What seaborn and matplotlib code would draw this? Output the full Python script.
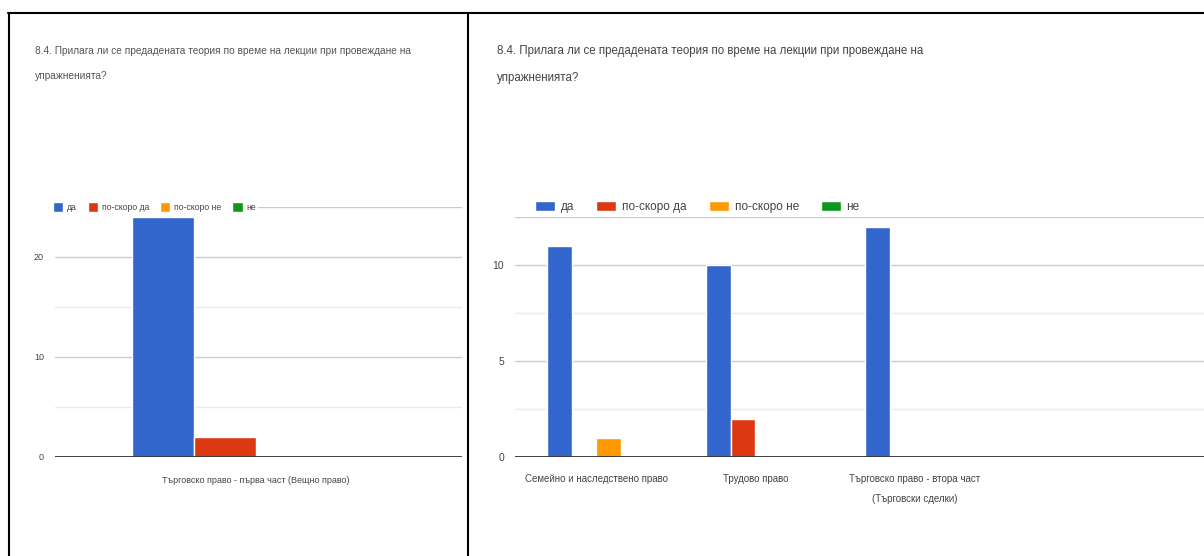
import pandas as pd
import matplotlib.pyplot as plt
import seaborn as sns
from matplotlib.lines import Line2D

# answers and colours (Google Forms palette)
answers = ["да", "по-скоро да", "по-скоро не", "не"]
answer_colors = ["#3366CC", "#DC3912", "#FF9900", "#109618"]

title = ("8.4. Прилага ли се предадената теория по време на лекции при провеждане на\n"
         "упражненията?")

# left chart
left_subjects = ["Търговско право - първа част (Вещно право)"]
left_da = [24]
left_poskoro_da = [2]
left_poskoro_ne = [0]
left_ne = [0]
left_yticks = [0, 10, 20]

# right chart
right_subjects = ["Семейно и наследствено право", "Трудово право",
                  "Търговско право - втора част\n(Търговски сделки)"]
right_da = [11, 10, 12]
right_poskoro_da = [0, 2, 0]
right_poskoro_ne = [1, 0, 0]
right_ne = [0, 0, 0]
right_yticks = [0, 5, 10]


def to_long(subjects, *series):
    rows = []
    for ans, vals in zip(answers, series):
        for s, v in zip(subjects, vals):
            rows.append({"subject": s, "answer": ans, "count": v})
    return pd.DataFrame(rows)


df_left = to_long(left_subjects, left_da, left_poskoro_da, left_poskoro_ne, left_ne)
df_right = to_long(right_subjects, right_da, right_poskoro_da, right_poskoro_ne, right_ne)

sns.set_style("white")
plt.rcParams['font.family'] = ['Liberation Sans', 'DejaVu Sans']

W, H = 1204, 556
fig = plt.figure(figsize=(W / 100, H / 100), dpi=100)


def px_ax(x0, x1, ytop, ybot):
    return fig.add_axes([x0 / W, (H - ybot) / H, (x1 - x0) / W, (ybot - ytop) / H])


def style_chart(ax, df, width, xlim, ylim, yticks, minor, fs_tick, fs_x, xpad):
    sns.barplot(data=df, x="subject", y="count", hue="answer", hue_order=answers,
                palette=answer_colors, saturation=1, width=width, ax=ax, zorder=3)
    ax.set_xlim(*xlim)
    ax.set_ylim(*ylim)
    ax.set_yticks(yticks)
    for m in minor:
        ax.axhline(m, color="#ebebeb", lw=1, zorder=1)
    for t in yticks[1:]:
        ax.axhline(t, color="#cccccc", lw=1, zorder=1)
    ax.axhline(ylim[1], color="#cccccc", lw=1, zorder=1)
    ax.axhline(0, color="#333333", lw=1.3, zorder=4)
    for sp in ax.spines.values():
        sp.set_visible(False)
    ax.set_xlabel("")
    ax.set_ylabel("")
    ax.tick_params(axis="both", length=0, colors="#444444")
    ax.tick_params(axis="y", labelsize=fs_tick, pad=8)
    ax.tick_params(axis="x", labelsize=fs_x, pad=xpad)
    for lab in ax.get_xticklabels():
        lab.set_linespacing(2.3)
    ax.get_legend().remove()


# left chart
axl = px_ax(55, 462, 207, 457)
style_chart(axl, df_left, 0.8, (-0.648, 0.665), (0, 25), left_yticks, [5, 15],
            6.5, 6.5, 14)
h, l = axl.get_legend_handles_labels()
leg = axl.legend(h, answers, loc="center left", bbox_to_anchor=(-0.011, 1.0),
                 ncol=4, fontsize=6.2, frameon=True, facecolor="white",
                 edgecolor="none", framealpha=1, handlelength=1.2, handleheight=1.3,
                 handletextpad=0.4, columnspacing=1.3, borderpad=0.3,
                 borderaxespad=0)
for t in leg.get_texts():
    t.set_color("#444444")

# right chart
axr = px_ax(515, 1204, 217, 457)
style_chart(axr, df_right, 0.616, (-0.51, 3.82), (0, 12.5), right_yticks, [2.5, 7.5],
            7.5, 7, 12)
h, l = axr.get_legend_handles_labels()
leg = axr.legend(h, answers, loc="center left", bbox_to_anchor=(0.024, 1.042),
                 ncol=4, fontsize=8.5, frameon=True, facecolor="white",
                 edgecolor="none", framealpha=1, handlelength=1.7, handleheight=1.0,
                 handletextpad=0.5, columnspacing=1.85, borderpad=0.3,
                 borderaxespad=0)
for t in leg.get_texts():
    t.set_color("#444444")

# titles
fig.text(35 / W, 1 - 46 / H, title, ha="left", va="top", fontsize=7.3,
         color="#555555", linespacing=2.9)
fig.text(497 / W, 1 - 45 / H, title, ha="left", va="top", fontsize=8.3,
         color="#444444", linespacing=2.65)

# table borders
fig.add_artist(Line2D([8 / W, 1.0], [1 - 13 / H, 1 - 13 / H], color="black", lw=1.5))
fig.add_artist(Line2D([9 / W, 9 / W], [1 - 13 / H, 0], color="black", lw=1.5))
fig.add_artist(Line2D([468 / W, 468 / W], [1 - 13 / H, 0], color="black", lw=1.5))

plt.savefig("out.png", dpi=100)
